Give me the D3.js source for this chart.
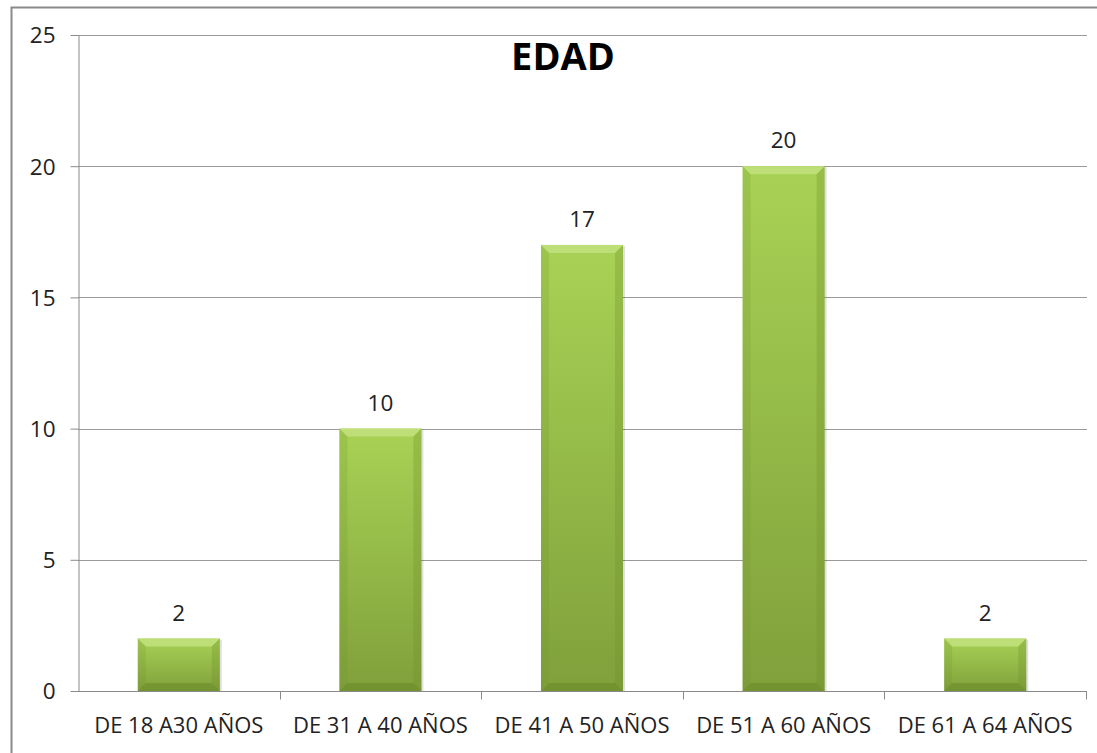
<!DOCTYPE html>
<html><head><meta charset="utf-8">
<script src="https://cdn.jsdelivr.net/npm/d3@7"></script>
<style>body{margin:0;background:#fff;}svg{display:block;}</style>
</head><body>
<script>
const categories = ["DE 18 A30 AÑOS","DE 31 A 40 AÑOS","DE 41 A 50 AÑOS","DE 51 A 60 AÑOS","DE 61 A 64 AÑOS"];
const values = [2,10,17,20,2];
const yTicks = [0,5,10,15,20,25];
const title = "EDAD";

const W=1097,H=753;
const svg=d3.select("body").append("svg").attr("width",W).attr("height",H);
const font="'Open Sans', sans-serif";
const defs=svg.append("defs");
const g1=defs.append("linearGradient").attr("id","barg").attr("x1",0).attr("y1",0).attr("x2",0).attr("y2",1);
g1.append("stop").attr("offset","0%").attr("stop-color","#a8d255");
g1.append("stop").attr("offset","100%").attr("stop-color","#80a03b");

// outer border
svg.append("rect").attr("x",11.5).attr("y",7.5).attr("width",W+20).attr("height",H+20)
  .attr("fill","none").attr("stroke","#8a8a8a").attr("stroke-width",2);

const x=d3.scaleBand().domain(categories).range([78,1086]).paddingInner(0.593).paddingOuter(0.2965);
const y=d3.scaleLinear().domain([0,25]).range([691,35]);

// gridlines
svg.append("g").selectAll("line").data(yTicks.filter(d=>d>0)).join("line")
  .attr("x1",78).attr("x2",1087).attr("y1",d=>Math.round(y(d))+0.5).attr("y2",d=>Math.round(y(d))+0.5)
  .attr("stroke","#9a9a9a").attr("stroke-width",1);

// y axis
const ya=svg.append("g").attr("transform","translate(78.5,0)")
  .call(d3.axisLeft(y).tickValues(yTicks).tickSize(8).tickPadding(15).tickSizeOuter(0));
ya.select(".domain").attr("stroke","#8a8a8a");
ya.selectAll(".tick line").attr("stroke","#8a8a8a");
ya.selectAll(".tick text").attr("font-family",font).attr("font-size",22.5).attr("fill","#222").attr("dy","0.35em");

// x axis
const xa=svg.append("g").attr("transform",`translate(0,${Math.round(y(0))+0.5})`);
xa.append("line").attr("x1",78).attr("x2",1087).attr("stroke","#8a8a8a");
const bounds=categories.map(c=>x(c)-x.step()*x.paddingInner()/2).concat([1086]);
xa.selectAll("line.t").data(bounds.slice(1)).join("line").attr("class","t")
  .attr("x1",d=>Math.round(d)+0.5).attr("x2",d=>Math.round(d)+0.5).attr("y1",0).attr("y2",8).attr("stroke","#8a8a8a");
xa.selectAll("text").data(categories).join("text")
  .attr("x",d=>x(d)+x.bandwidth()/2).attr("y",41).attr("text-anchor","middle")
  .attr("font-family",font).attr("font-size",22).attr("fill","#222").text(d=>d);

// bars
const bw=x.bandwidth(), b=8;
const bars=svg.append("g").selectAll("g").data(categories.map((c,i)=>({c,v:values[i]}))).join("g");
bars.append("rect").attr("x",d=>x(d.c)+2).attr("y",d=>y(d.v)+1).attr("width",bw).attr("height",d=>y(0)-y(d.v)-1)
  .attr("fill","#000").attr("opacity",0.12);
bars.append("rect").attr("x",d=>x(d.c)).attr("y",d=>y(d.v)).attr("width",bw).attr("height",d=>y(0)-y(d.v))
  .attr("fill","url(#barg)");
function poly(pts){return pts.map(p=>p.join(",")).join(" ");}
bars.append("polygon").attr("points",d=>{const l=x(d.c),r=l+bw,t=y(d.v);return poly([[l,t],[r,t],[r-b,t+b],[l+b,t+b]]);})
  .attr("fill","#c2e27e").attr("opacity",0.85);
bars.append("polygon").attr("points",d=>{const l=x(d.c),t=y(d.v),bt=y(0);return poly([[l,t],[l+b,t+b],[l+b,bt-b],[l,bt]]);})
  .attr("fill","#6f8f2c").attr("opacity",0.2);
bars.append("polygon").attr("points",d=>{const r=x(d.c)+bw,t=y(d.v),bt=y(0);return poly([[r,t],[r-b,t+b],[r-b,bt-b],[r,bt]]);})
  .attr("fill","#6f8f2c").attr("opacity",0.3);
bars.append("polygon").attr("points",d=>{const l=x(d.c),r=l+bw,bt=y(0);return poly([[l,bt],[r,bt],[r-b,bt-b],[l+b,bt-b]]);})
  .attr("fill","#5f7f22").attr("opacity",0.4);

// value labels
svg.append("g").selectAll("text").data(categories.map((c,i)=>({c,v:values[i]}))).join("text")
  .attr("x",d=>x(d.c)+bw/2).attr("y",d=>y(d.v)-18).attr("text-anchor","middle")
  .attr("font-family",font).attr("font-size",22.5).attr("fill","#222").text(d=>d.v);

// title
svg.append("text").attr("x",563).attr("y",70).attr("text-anchor","middle")
  .attr("font-family",font).attr("font-weight","bold").attr("font-size",38).attr("fill","#000").text(title);
</script>
</body></html>
